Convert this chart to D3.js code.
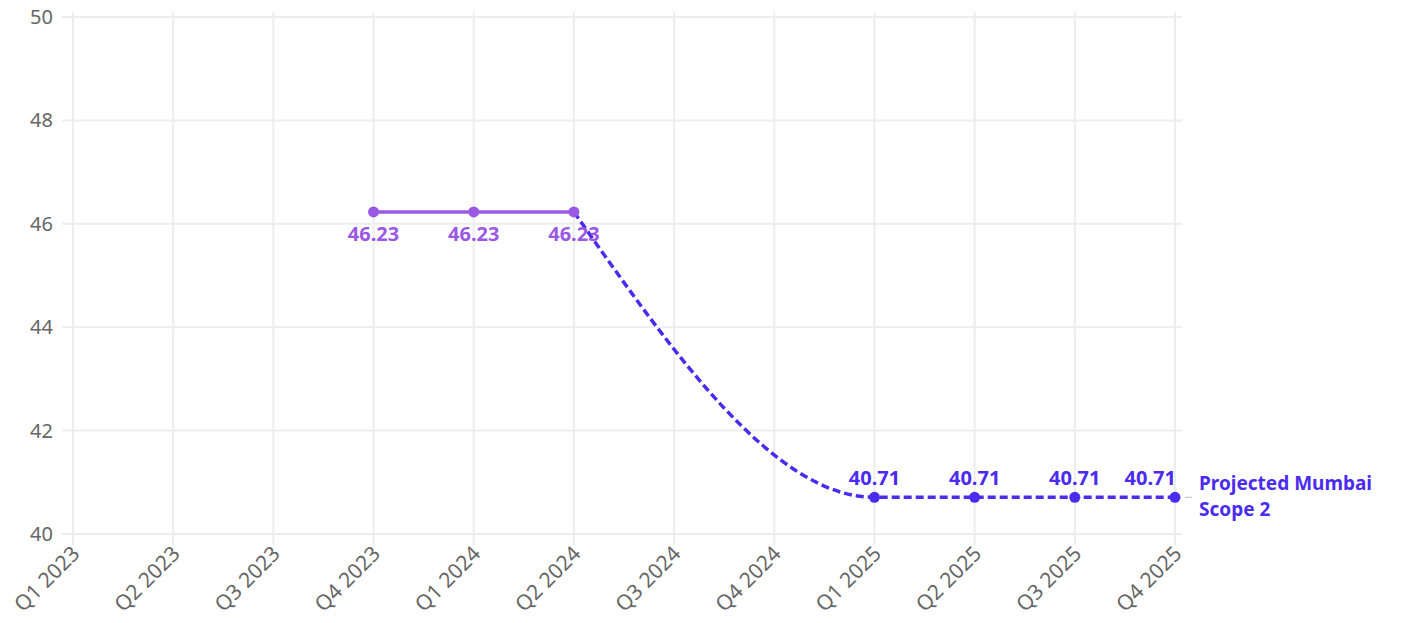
<!DOCTYPE html>
<html><head><meta charset="utf-8">
<script src="https://cdn.jsdelivr.net/npm/d3@7"></script>
<style>body{margin:0;background:#fff;font-family:"Noto Sans",sans-serif}</style>
</head><body><svg id="c" width="1424" height="623"></svg>
<script>
const quarters = ["Q1 2023","Q2 2023","Q3 2023","Q4 2023","Q1 2024","Q2 2024","Q3 2024","Q4 2024","Q1 2025","Q2 2025","Q3 2025","Q4 2025"];
const actualQuarters = ["Q4 2023","Q1 2024","Q2 2024"];
const actualValues = [46.23, 46.23, 46.23];
const projQuarters = ["Q2 2024","Q1 2025","Q2 2025","Q3 2025","Q4 2025"];
const projValues = [46.23, 40.71, 40.71, 40.71, 40.71];
const yTicks = [40, 42, 44, 46, 48, 50];
const seriesLabel = ["Projected Mumbai", "Scope 2"];

const svg = d3.select("#c");
const x = d3.scalePoint().domain(quarters).range([73, 1175]);
const y = d3.scaleLinear().domain([40, 50]).range([534, 17]);
const grid = "#ededed";

// horizontal grid
svg.append("g").selectAll("line").data(yTicks).join("line")
  .attr("x1", x(quarters[0]) - 11).attr("x2", x(quarters[quarters.length-1]) + 7)
  .attr("y1", d => y(d)).attr("y2", d => y(d))
  .attr("stroke", grid).attr("stroke-width", 2);
// vertical grid
svg.append("g").selectAll("line").data(quarters).join("line")
  .attr("x1", d => x(d)).attr("x2", d => x(d))
  .attr("y1", y(50) - 5).attr("y2", y(40) + 11)
  .attr("stroke", grid).attr("stroke-width", 2);

// y labels
svg.append("g").selectAll("text").data(yTicks).join("text")
  .attr("x", 53).attr("y", d => y(d)).attr("dy", "0.35em")
  .attr("text-anchor", "end").attr("fill", "#666").attr("font-size", 20)
  .text(d => d);
// x labels
svg.append("g").selectAll("text").data(quarters).join("text")
  .attr("transform", d => `translate(${x(d)+8},${y(40)+21}) rotate(-45)`)
  .attr("text-anchor", "end").attr("fill", "#666").attr("font-size", 21)
  .text(d => d);

const cSolid = "#9b58e4", cProj = "#4b2cef";
const actual = actualQuarters.map((q,i) => ({q, v: actualValues[i]}));
const proj = projQuarters.map((q,i) => ({q, v: projValues[i]}));

svg.append("path").datum(proj)
  .attr("d", d3.line().x(d => x(d.q)).y(d => y(d.v)).curve(d3.curveMonotoneX))
  .attr("fill", "none").attr("stroke", cProj).attr("stroke-width", 3.5)
  .attr("stroke-dasharray", "8,4");
svg.append("path").datum(actual)
  .attr("d", d3.line().x(d => x(d.q)).y(d => y(d.v)))
  .attr("fill", "none").attr("stroke", cSolid).attr("stroke-width", 3.5);

svg.append("g").selectAll("circle").data(proj.slice(1)).join("circle")
  .attr("cx", d => x(d.q)).attr("cy", d => y(d.v)).attr("r", 5.5).attr("fill", cProj);
svg.append("g").selectAll("circle").data(actual).join("circle")
  .attr("cx", d => x(d.q)).attr("cy", d => y(d.v)).attr("r", 5.5).attr("fill", cSolid);

svg.append("g").selectAll("text").data(actual).join("text")
  .attr("x", d => x(d.q)).attr("y", d => y(d.v) + 29)
  .attr("text-anchor", "middle").attr("font-weight", "bold").attr("font-size", 20)
  .attr("fill", cSolid).text(d => d.v.toFixed(2));
const projLab = proj.slice(1);
svg.append("g").selectAll("text").data(projLab).join("text")
  .attr("x", (d,i) => x(d.q) + (i === projLab.length-1 ? 1 : 0))
  .attr("y", d => y(d.v) - 12)
  .attr("text-anchor", (d,i) => i === projLab.length-1 ? "end" : "middle")
  .attr("font-weight", "bold").attr("font-size", 20)
  .attr("fill", cProj).text(d => d.v.toFixed(2));

// end label
const last = proj[proj.length-1];
svg.append("line").attr("x1", x(last.q) + 10).attr("x2", x(last.q) + 17)
  .attr("y1", y(last.v)).attr("y2", y(last.v)).attr("stroke", "#bbb").attr("stroke-width", 1);
svg.append("g").selectAll("text").data(seriesLabel).join("text")
  .attr("x", x(last.q) + 24).attr("y", (d,i) => y(last.v) - 7 + i * 26)
  .attr("font-weight", "bold").attr("font-size", 19).attr("fill", cProj)
  .text(d => d);
</script></body></html>
